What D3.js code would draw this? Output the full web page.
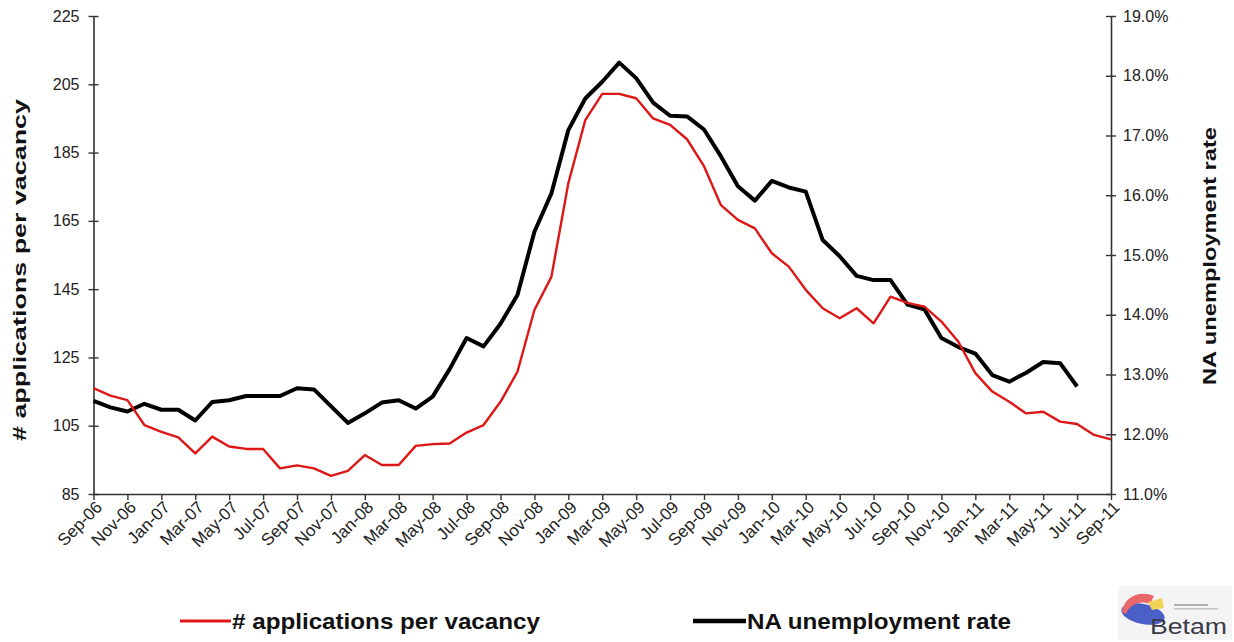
<!DOCTYPE html>
<html>
<head>
<meta charset="utf-8">
<script src="https://cdn.jsdelivr.net/npm/d3@7/dist/d3.min.js"></script>
<style>
  html, body { margin: 0; padding: 0; background: #ffffff; }
  svg { display: block; }
  text { font-family: "Liberation Sans", Arial, sans-serif; }
</style>
</head>
<body>
<script>
// ---------------- DATA ----------------
const months = [
  "Sep-06","Oct-06","Nov-06","Dec-06","Jan-07","Feb-07","Mar-07","Apr-07","May-07","Jun-07","Jul-07","Aug-07",
  "Sep-07","Oct-07","Nov-07","Dec-07","Jan-08","Feb-08","Mar-08","Apr-08","May-08","Jun-08","Jul-08","Aug-08",
  "Sep-08","Oct-08","Nov-08","Dec-08","Jan-09","Feb-09","Mar-09","Apr-09","May-09","Jun-09","Jul-09","Aug-09",
  "Sep-09","Oct-09","Nov-09","Dec-09","Jan-10","Feb-10","Mar-10","Apr-10","May-10","Jun-10","Jul-10","Aug-10",
  "Sep-10","Oct-10","Nov-10","Dec-10","Jan-11","Feb-11","Mar-11","Apr-11","May-11","Jun-11","Jul-11","Aug-11",
  "Sep-11"
];

// # applications per vacancy (left axis)
const applications = [
  116.0, 113.8, 112.5, 105.2, 103.2, 101.6, 96.9, 101.8, 98.9, 98.2, 98.2, 92.5,
  93.4, 92.5, 90.3, 91.8, 96.4, 93.5, 93.5, 99.1, 99.6, 99.8, 103.0, 105.2,
  112.0, 120.8, 138.9, 148.6, 176.0, 194.5, 202.2, 202.2, 200.9, 195.0, 193.1, 188.9,
  181.0, 169.6, 165.3, 162.8, 155.5, 151.6, 144.8, 139.4, 136.5, 139.4, 135.0, 142.8,
  141.0, 139.9, 135.5, 129.6, 120.4, 115.0, 112.0, 108.6, 109.1, 106.2, 105.5, 102.3,
  101.0
];

// NA unemployment rate, % (right axis) — ends Jul-11
const unemployment = [
  12.56, 12.45, 12.38, 12.51, 12.41, 12.41, 12.23, 12.54, 12.57, 12.64, 12.64, 12.64,
  12.77, 12.75, 12.47, 12.19, 12.35, 12.53, 12.57, 12.43, 12.63, 13.09, 13.61, 13.47,
  13.85, 14.33, 15.39, 16.03, 17.09, 17.62, 17.90, 18.22, 17.96, 17.55, 17.33, 17.32,
  17.10, 16.65, 16.15, 15.91, 16.24, 16.13, 16.06, 15.25, 14.98, 14.65, 14.58, 14.58,
  14.17, 14.09, 13.61, 13.46, 13.35, 12.99, 12.88, 13.03, 13.21, 13.19, 12.80
];

const leftTicks = [85, 105, 125, 145, 165, 185, 205, 225];
const rightTicks = [11, 12, 13, 14, 15, 16, 17, 18, 19];

const seriesNames = ["# applications per vacancy", "NA unemployment rate"];
const axisTitles = ["# applications per vacancy", "NA unemployment rate"];

// ---------------- LAYOUT ----------------
const W = 1234, H = 642;
const plot = { left: 93.5, right: 1111, top: 16, bottom: 494 };
const RED = "#dd1616", BLACK = "#000000", AXIS = "#333333";

const svg = d3.select("body").append("svg").attr("width", W).attr("height", H);

const x = d3.scalePoint().domain(months).range([plot.left, plot.right]).padding(0);
const yL = d3.scaleLinear().domain([85, 225]).range([plot.bottom, plot.top]);
const yR = d3.scaleLinear().domain([11, 19]).range([plot.bottom, plot.top]);

// ---------------- AXES ----------------
const axL = svg.append("g").attr("transform", `translate(${plot.left},0)`)
  .call(d3.axisLeft(yL).tickValues(leftTicks).tickSizeInner(5).tickSizeOuter(0).tickPadding(9));
axL.selectAll(".tick line").attr("x2", -5).attr("x1", 5);

const axR = svg.append("g").attr("transform", `translate(${plot.right},0)`)
  .call(d3.axisRight(yR).tickValues(rightTicks).tickSizeInner(5).tickSizeOuter(0).tickPadding(7)
    .tickFormat(d => d.toFixed(1) + "%"));
axR.selectAll(".tick line").attr("x1", -5).attr("x2", 5);

const axB = svg.append("g").attr("transform", `translate(0,${plot.bottom})`)
  .call(d3.axisBottom(x).tickValues(months.filter((d, i) => i % 2 === 0)).tickSizeInner(6).tickSizeOuter(0));

[axL, axR, axB].forEach(g => {
  g.select(".domain").attr("stroke", AXIS).attr("stroke-width", 1.6);
  g.selectAll(".tick line").attr("stroke", AXIS).attr("stroke-width", 1.4);
  g.selectAll(".tick text").attr("fill", "#222").style("font-size", "16px")
    .style("font-family", "'Liberation Sans', Arial, sans-serif");
});

axB.selectAll(".tick text")
  .attr("text-anchor", "end")
  .attr("transform", "translate(5,10) rotate(-45)")
  .attr("dy", "0.35em")
  .attr("y", 0).attr("x", 0)
  .style("font-size", "17px");

// ---------------- LINES ----------------
const lineL = d3.line().x((d, i) => x(months[i])).y(d => yL(d));
const lineR = d3.line().x((d, i) => x(months[i])).y(d => yR(d));

svg.append("path").datum(unemployment)
  .attr("d", lineR).attr("fill", "none").attr("stroke", BLACK)
  .attr("stroke-width", 4).attr("stroke-linejoin", "round");

svg.append("path").datum(applications)
  .attr("d", lineL).attr("fill", "none").attr("stroke", RED)
  .attr("stroke-width", 2.4).attr("stroke-linejoin", "round");

// ---------------- AXIS TITLES ----------------
svg.append("text")
  .attr("transform", "translate(26,270) rotate(-90)")
  .attr("text-anchor", "middle")
  .attr("font-weight", "bold").style("font-size", "19px").attr("fill", "#111")
  .attr("textLength", 342).attr("lengthAdjust", "spacingAndGlyphs")
  .text(axisTitles[0]);

svg.append("text")
  .attr("transform", "translate(1216,256) rotate(-90)")
  .attr("text-anchor", "middle")
  .attr("font-weight", "bold").style("font-size", "19px").attr("fill", "#111")
  .attr("textLength", 258).attr("lengthAdjust", "spacingAndGlyphs")
  .text(axisTitles[1]);

// ---------------- LEGEND ----------------
const legend = [
  { name: seriesNames[0], color: RED, w: 3, x0: 180, x1: 231, tl: 308 },
  { name: seriesNames[1], color: BLACK, w: 4.5, x0: 693, x1: 746, tl: 264 }
];
legend.forEach(l => {
  svg.append("line").attr("x1", l.x0).attr("x2", l.x1).attr("y1", 621).attr("y2", 621)
    .attr("stroke", l.color).attr("stroke-width", l.w);
  svg.append("text").attr("x", l.x1 + 1).attr("y", 629)
    .attr("font-weight", "bold").style("font-size", "22px").attr("fill", "#111")
    .attr("textLength", l.tl).attr("lengthAdjust", "spacingAndGlyphs")
    .text(l.name);
});

// ---------------- LOGO ----------------
const logo = svg.append("g").attr("transform", "translate(1118,586)");
logo.append("rect").attr("x", 0).attr("y", 0).attr("width", 114).attr("height", 54)
  .attr("fill", "#f4f4f4");
logo.append("ellipse").attr("cx", 25).attr("cy", 28).attr("rx", 22).attr("ry", 10)
  .attr("fill", "#4a5fc8").attr("transform", "rotate(12,25,28)");
logo.append("path").attr("d", "M4,26 C6,10 22,4 36,10 L32,18 C22,14 12,18 8,28 Z").attr("fill", "#e9666a");
logo.append("path").attr("d", "M30,16 L44,12 L46,22 L34,24 Z").attr("fill", "#f2d35a");
logo.append("rect").attr("x", 56).attr("y", 18).attr("width", 34).attr("height", 2).attr("fill", "#b0b0b0");
logo.append("rect").attr("x", 56).attr("y", 22).attr("width", 44).attr("height", 1.5).attr("fill", "#c4c4c4");
logo.append("text").attr("x", 32).attr("y", 48).style("font-size", "22px").attr("fill", "#3a3a48")
  .attr("textLength", 77).attr("lengthAdjust", "spacingAndGlyphs")
  .text("Betam");
</script>
</body>
</html>
